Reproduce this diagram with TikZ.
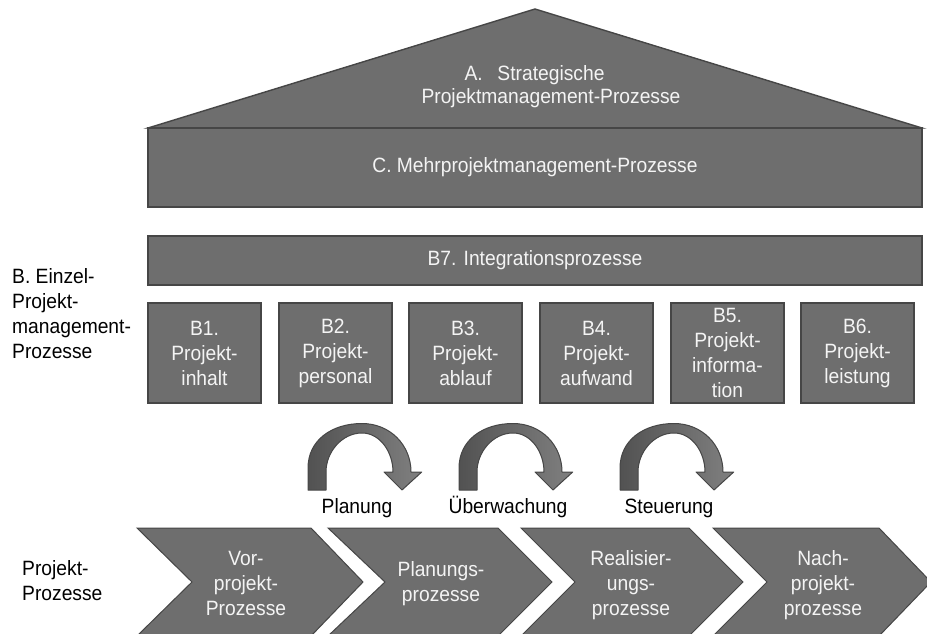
\documentclass[tikz,border=0pt]{standalone}
\usepackage{fontspec}
\setmainfont[FakeStretch=0.93]{Liberation Sans}
\definecolor{boxfill}{HTML}{6E6E6E}
\definecolor{boxline}{HTML}{464646}
\definecolor{boxtext}{HTML}{F4F4F4}
\definecolor{arrowdark}{HTML}{525252}
\definecolor{arrowlight}{HTML}{808080}
\newcommand\labelfont{\fontsize{20.7}{25}\selectfont}

\begin{document}
\begin{tikzpicture}[x=1pt,y=-1pt,
  grey/.style={draw=boxline, fill=boxfill, line width=1.4pt, line join=miter},
  box/.style={grey, text=boxtext, font=\labelfont, align=center, inner sep=0pt},
  boxtextstyle/.style={text=boxtext, font=\labelfont, align=center, inner sep=0pt},
  sidelabel/.style={text=black, font=\labelfont, align=left, inner sep=0pt, anchor=west},
  phase/.style={text=black, font=\labelfont, inner sep=0pt, anchor=base},
  bsmall/.style={box, minimum width=113, minimum height=100, execute at begin node={\rule{0pt}{21pt}}},
  cycarrow/.style={draw=boxline, line width=1pt, left color=arrowdark, right color=arrowlight, line join=round}
]
\useasboundingbox (0,0) rectangle (927,634);

% roof: strategic processes
\path[grey] (148,128) -- (535,9) -- (922,128) -- cycle;
\node[boxtextstyle] (strat1) at (534.5,75) {A.\hspace{14.8pt}Strategische};
\node[boxtextstyle] (strat2) at (551,98) {Projektmanagement-Prozesse};

% multi-project layer and integration layer
\node[box, minimum width=774, minimum height=79] (multi) at (535,167.5) {C. Mehrprojektmanagement-Prozesse};
\node[box, minimum width=774, minimum height=49] (integr) at (535,260.5) {B7. Integrationsprozesse};

% single-project management processes
\node[bsmall] (b1) at (204.5,353) {B1.\\Projekt-\\inhalt};
\node[bsmall] (b2) at (335.5,353) {B2.\\Projekt-\\personal};
\node[bsmall] (b3) at (465.5,353) {B3.\\Projekt-\\ablauf};
\node[bsmall] (b4) at (596.5,353) {B4.\\Projekt-\\aufwand};
\node[bsmall] (b5) at (727.5,353) {B5.\\Projekt-\\informa-\\tion};
\node[bsmall] (b6) at (857.5,353) {B6.\\Projekt-\\leistung};

\node[sidelabel] (einzel) at (12,313.5) {B. Einzel-\\Projekt-\\management-\\Prozesse};
\node[sidelabel] (projproz) at (22,580.5) {Projekt-\\Prozesse};

% control cycle arrows
\foreach \dx/\nm in {0/arrA,151/arrB,312/arrC}{
  \begin{scope}[shift={(308+\dx,490)}]
    \path[cycarrow] (0,0) -- (0,-22)
      .. controls (0,-50) and (24,-66.5) .. (54,-66.5)
      .. controls (82,-66.5) and (103,-45) .. (103,-18)
      -- (113.7,-18) -- (94,0) -- (76,-18) -- (85,-18)
      .. controls (85,-38) and (72,-57) .. (54,-57)
      .. controls (34,-57) and (18,-38) .. (18,-18)
      -- (18,0) -- cycle;
  \end{scope}
}
\node[phase] (plan) at (357,513) {Planung};
\node[phase] (ueber) at (508,513) {Überwachung};
\node[phase] (steu) at (669,513) {Steuerung};

% project phases as chevrons
\foreach \L/\R/\N/\T in {137/311/192/363, 328/498/385/552, 521/689/575/743, 713/879/767/931}{
  \path[grey, line width=1pt] (\L,528) -- (\R,528) -- (\T,582) -- (\R,636) -- (\L,636) -- (\N,582) -- cycle;
}
\node[boxtextstyle] (vor) at (246,583) {Vor-\\projekt-\\Prozesse};
\node[boxtextstyle] (planp) at (441,584) {Planungs-\\prozesse};
\node[boxtextstyle] (real) at (631,585) {Realisier-\\ungs-\\prozesse};
\node[boxtextstyle] (nach) at (823,585) {Nach-\\projekt-\\prozesse};
\end{tikzpicture}
\end{document}
